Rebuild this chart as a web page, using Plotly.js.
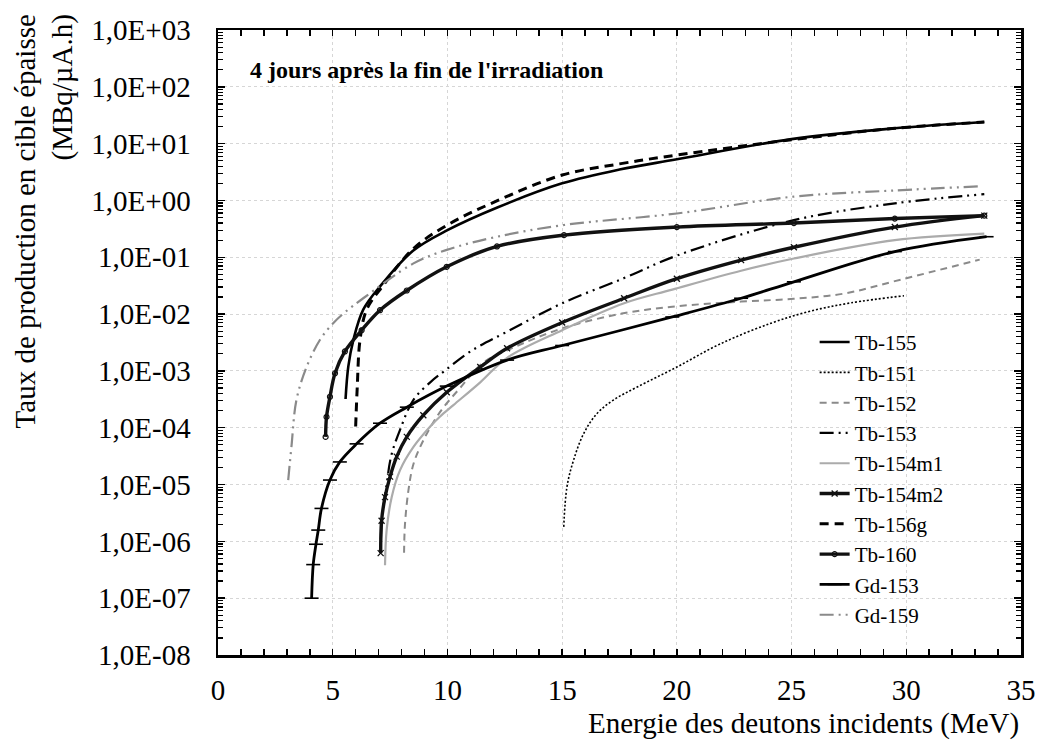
<!DOCTYPE html>
<html><head><meta charset="utf-8">
<script src="https://cdn.plot.ly/plotly-3.0.1.min.js"></script>
<style>html,body{margin:0;padding:0;background:#fff}#chart{width:1038px;height:742px}</style>
</head><body><div id="chart"></div>
<script>
// ---- Data (energy in MeV, yield in MBq/µA.h) ----
const seriesNames = ['Tb-155','Tb-151','Tb-152','Tb-153','Tb-154m1','Tb-154m2','Tb-156g','Tb-160','Gd-153','Gd-159'];

const eTb155 = [5.56,5.68,5.9,6.33,7.1,8.5,10,12.2,15,17.5,20,25,29.5,33.4];
const yTb155 = [3.2e-4,1.2e-3,3.5e-3,1.2e-2,3.2e-2,0.13,0.3,0.76,2.0,3.5,5.3,12,18.6,24];

const eTb151 = [15.07,15.21,15.5,15.94,16.52,17.25,18.27,20,21.9,24.1,25.8,27.6,29.9];
const yTb151 = [1.8e-6,9.1e-6,2.7e-5,7.9e-5,1.78e-4,3.1e-4,5.2e-4,1.17e-3,3.0e-3,6.9e-3,1.12e-2,1.58e-2,2.1e-2];

const eTb152 = [8.11,8.15,8.3,8.52,8.95,9.68,10.55,11.57,12.6,15,17.6,19.8,22.8,25.1,27.3,29.5,33.2];
const yTb152 = [6.3e-7,2.0e-6,7.9e-6,2.3e-5,6.0e-5,1.9e-4,5.0e-4,1.41e-3,2.3e-3,5.6e-3,1.02e-2,1.35e-2,1.66e-2,1.86e-2,2.3e-2,3.8e-2,9.1e-2];

const eTb153 = [7.1,7.15,7.35,7.55,7.93,8.52,9.25,9.9,11.0,12.6,15,17.7,20,25.1,29.5,33.4];
const yTb153 = [1.1e-6,2.5e-6,1e-5,3.2e-5,9.1e-5,3.1e-4,6.3e-4,1.02e-3,2.2e-3,4.9e-3,1.55e-2,4.3e-2,0.107,0.45,0.89,1.29];

const eTb154m1 = [7.28,7.35,7.57,7.93,8.52,9.25,9.68,10.26,11.43,12.6,15,17.7,19.8,22.8,25.1,29.5,33.4];
const yTb154m1 = [3.8e-7,1.58e-6,6.0e-6,1.78e-5,4.6e-5,1.05e-4,1.58e-4,2.5e-4,6.3e-4,1.7e-3,5.2e-3,1.55e-2,2.7e-2,5.8e-2,9.5e-2,0.2,0.26];

const eTb154m2 = [7.09,7.13,7.28,7.5,7.79,8.23,8.95,9.97,11.43,12.6,15,17.7,20,22.8,25.1,29.5,33.4];
const yTb154m2 = [6.2e-7,2.3e-6,6.0e-6,1.38e-5,3.1e-5,6.9e-5,1.66e-4,4.2e-4,1.17e-3,2.5e-3,7.1e-3,1.9e-2,4.2e-2,8.9e-2,0.15,0.34,0.54];

const eTb156g = [6.0,6.07,6.19,6.48,7.2,8.5,10,12.2,15,17.5,20,25,29.5,33.4];
const yTb156g = [1.05e-4,5.2e-4,3.5e-3,1.2e-2,3.2e-2,0.14,0.37,1.0,2.8,4.4,6.3,11.7,18.6,24];

const eTb160 = [4.69,4.73,4.88,5.1,5.53,6.26,7.06,8.23,9.97,12.16,15.08,20,25.1,29.5,33.4];
const yTb160 = [6.9e-5,1.55e-4,3.5e-4,9.1e-4,2.2e-3,5.2e-3,1.17e-2,2.6e-2,6.8e-2,0.155,0.245,0.34,0.40,0.48,0.54];

const eGd153 = [4.08,4.15,4.27,4.37,4.51,4.88,5.31,6.04,7.06,8.23,9.97,12.6,15,19.8,22.8,25.1,29.5,33.5];
const yGd153 = [1e-7,3.9e-7,8.9e-7,1.58e-6,3.8e-6,1.2e-5,2.5e-5,5.2e-5,1.2e-4,2.3e-4,5.4e-4,1.55e-3,2.8e-3,8.9e-3,1.9e-2,3.7e-2,0.126,0.23];

const eGd159 = [3.06,3.2,3.42,3.86,4.44,5.02,5.5,6.33,8.52,9.97,12.16,15.08,20,25.1,29.5,33.3];
const yGd159 = [1.2e-5,4.6e-5,3.1e-4,1.17e-3,3.5e-3,6.9e-3,1.05e-2,1.9e-2,7.8e-2,0.135,0.23,0.37,0.59,1.17,1.5,1.78];

const xTickVals = [0,5,10,15,20,25,30,35];
const xTickText = ['0','5','10','15','20','25','30','35'];
const yTickVals = [1e-8,1e-7,1e-6,1e-5,1e-4,1e-3,1e-2,1e-1,1e0,1e1,1e2,1e3];
const yTickText = ['1,0E-08','1,0E-07','1,0E-06','1,0E-05','1,0E-04','1,0E-03','1,0E-02','1,0E-01','1,0E+00','1,0E+01','1,0E+02','1,0E+03'];

const chartTitle = "4 jours après la fin de l'irradiation";
const xTitle = 'Energie des deutons incidents (MeV)';
const yTitle = 'Taux de production en cible épaisse<br>(MBq/µA.h)';

// ---- Styles ----
const FONT = '"Liberation Serif", "Times New Roman", serif';
const GRAY = '#8a8a8a';
const LIGHT = '#ababab';
const seriesData = [
  [eTb155, yTb155, {color:'#000', width:2.6, dash:'solid'}, null],
  [eTb151, yTb151, {color:'#000', width:1.6, dash:'2px,2px'}, null],
  [eTb152, yTb152, {color:GRAY, width:2, dash:'7px,5px'}, null],
  [eTb153, yTb153, {color:'#000', width:2.2, dash:'14px,5px,2px,5px,2px,5px'}, null],
  [eTb154m1, yTb154m1, {color:LIGHT, width:2.2, dash:'solid'}, null],
  [eTb154m2, yTb154m2, {color:'#111', width:3.4, dash:'solid'}, {symbol:'x-thin-open', size:6, line:{color:'#000', width:1.3}}],
  [eTb156g, yTb156g, {color:'#000', width:3, dash:'9px,6px'}, null],
  [eTb160, yTb160, {color:'#111', width:3.4, dash:'solid'}, {symbol:'circle-open', size:5, line:{color:'#000', width:1.2}}],
  [eGd153, yGd153, {color:'#000', width:2.8, dash:'solid'}, {symbol:'line-ew-open', size:10, line:{color:'#000', width:1.6}}],
  [eGd159, yGd159, {color:GRAY, width:2.2, dash:'14px,5px,2px,5px,2px,5px'}, null]
];

const traces = seriesData.map((s, i) => {
  const t = {
    type:'scatter', x:s[0], y:s[1], name:seriesNames[i],
    mode: s[3] ? 'lines+markers' : 'lines',
    line: Object.assign({shape:'spline', smoothing:1.0}, s[2]),
    legendgroup:'g'+i, hoverinfo:'skip'
  };
  if (s[3]) t.marker = s[3];
  return t;
});

// minor log tick positions (2..9 x 10^k)
const yMinor = [];
for (let k = -8; k < 3; k++) for (let m = 2; m <= 9; m++) yMinor.push(m * Math.pow(10, k));

const layout = {
  width:1038, height:742,
  margin:{l:218, r:17, t:30, b:87},
  paper_bgcolor:'#fff', plot_bgcolor:'#fff',
  font:{family:FONT, color:'#000', size:22},
  showlegend:true,
  legend:{x:0.743, y:0.533, xanchor:'left', yanchor:'top', bgcolor:'rgba(0,0,0,0)',
          font:{family:FONT, size:21, color:'#000'}, traceorder:'grouped', tracegroupgap:0},
  xaxis:{range:[0,35], tickmode:'array', tickvals:xTickVals, ticktext:xTickText,
         ticks:'inside', ticklen:6, tickwidth:1.5, tickcolor:'#000',
         showline:true, linecolor:'#000', linewidth:2.5, mirror:'allticks',
         showgrid:true, gridcolor:'#d6d6d6', griddash:'dot', gridwidth:1,
         zeroline:false, tickfont:{family:FONT, size:29, color:'#000'}, ticklabelstandoff:8,
         minor:{dtick:1, ticks:'inside', ticklen:6, tickwidth:1.5, tickcolor:'#000', showgrid:false}},
  yaxis:{type:'log', range:[-8,3], tickmode:'array', tickvals:yTickVals, ticktext:yTickText,
         ticks:'inside', ticklen:7, tickwidth:1.5, tickcolor:'#000',
         showline:true, linecolor:'#000', linewidth:2.5, mirror:'allticks',
         showgrid:true, gridcolor:'#d6d6d6', griddash:'dot', gridwidth:1,
         zeroline:false, tickfont:{family:FONT, size:29, color:'#000'}, ticklabelstandoff:19,
         minor:{tickmode:'array', tickvals:yMinor, ticks:'inside', ticklen:5, tickwidth:1.2, tickcolor:'#000', showgrid:false}},
  annotations:[
    {text:'<b>'+chartTitle+'</b>', xref:'paper', yref:'paper', x:0.037, y:0.936, xanchor:'left', yanchor:'middle',
     showarrow:false, font:{family:FONT, size:24, color:'#000'}},
    {text:xTitle, xref:'paper', yref:'paper', x:1.0, y:-0.109, xanchor:'right', yanchor:'middle',
     showarrow:false, font:{family:FONT, size:29, color:'#000'}},
    {text:yTitle, xref:'paper', yref:'paper', x:-0.216, y:0.693, xanchor:'center', yanchor:'middle',
     textangle:-90, align:'right', showarrow:false, font:{family:FONT, size:29, color:'#000'}}
  ]
};

Plotly.newPlot('chart', traces, layout, {staticPlot:true, displayModeBar:false});
</script></body></html>
